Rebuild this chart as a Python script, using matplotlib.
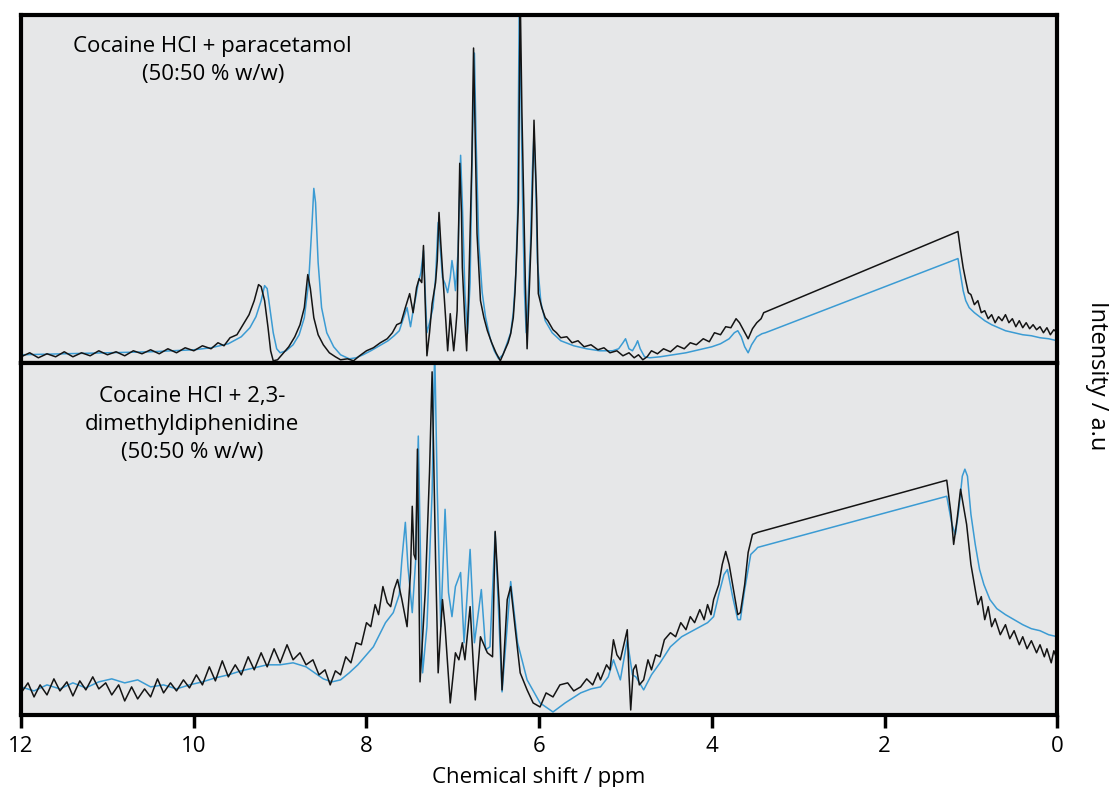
import matplotlib
matplotlib.use("Agg")
import matplotlib.pyplot as plt

plt.rcParams['font.family'] = ['Open Sans', 'DejaVu Sans']

# (chemical shift in ppm, intensity in a.u.) - upper mixture, black = measured, blue = model
top_black = [
    (12.00, 6), (11.90, 10), (11.80, 5), (11.70, 9), (11.60, 6), (11.50, 11), (11.40, 6),
    (11.30, 10), (11.20, 7), (11.10, 12), (11.00, 8), (10.90, 11), (10.80, 7), (10.70, 12),
    (10.60, 9), (10.50, 13), (10.40, 9), (10.30, 14), (10.20, 10), (10.10, 15), (10.00, 12),
    (9.90, 17), (9.80, 14), (9.72, 20), (9.65, 17), (9.58, 25), (9.50, 28), (9.43, 38),
    (9.36, 48), (9.30, 62), (9.25, 78), (9.22, 76), (9.18, 62), (9.14, 35), (9.11, 12),
    (9.08, 2), (9.03, 3), (8.97, 9), (8.90, 16), (8.83, 26), (8.77, 38), (8.72, 55),
    (8.68, 88), (8.65, 74), (8.61, 45), (8.56, 28), (8.50, 18), (8.43, 10), (8.36, 6),
    (8.30, 3), (8.22, 4), (8.15, 2), (8.08, 7), (8.00, 12), (7.92, 15), (7.84, 20),
    (7.76, 24), (7.70, 30), (7.65, 38), (7.60, 40), (7.55, 55), (7.50, 69), (7.46, 50),
    (7.42, 75), (7.39, 84), (7.36, 80), (7.34, 117), (7.32, 60), (7.30, 7), (7.27, 30),
    (7.24, 59), (7.20, 80), (7.18, 102), (7.16, 150), (7.14, 120), (7.11, 79), (7.08, 40),
    (7.06, 12), (7.04, 35), (7.03, 49), (7.01, 30), (6.99, 12), (6.97, 30), (6.95, 52),
    (6.93, 150), (6.92, 199), (6.90, 150), (6.89, 95), (6.86, 40), (6.84, 12), (6.82, 60),
    (6.81, 95), (6.78, 200), (6.76, 314), (6.74, 220), (6.72, 129), (6.68, 62), (6.64, 45),
    (6.60, 32), (6.55, 20), (6.50, 10), (6.45, 2), (6.40, 12), (6.36, 20), (6.33, 29),
    (6.30, 45), (6.28, 70), (6.26, 110), (6.24, 162), (6.22, 370), (6.20, 250), (6.18, 162),
    (6.16, 79), (6.14, 14), (6.12, 60), (6.09, 129), (6.07, 200), (6.06, 242), (6.04, 190),
    (6.03, 162), (6.01, 69), (5.97, 55), (5.93, 45), (5.90, 42), (5.84, 33), (5.80, 30),
    (5.75, 25), (5.68, 26), (5.62, 20), (5.55, 22), (5.48, 16), (5.40, 18), (5.32, 13),
    (5.25, 15), (5.18, 10), (5.10, 12), (5.03, 7), (4.96, 10), (4.90, 5), (4.85, 8),
    (4.80, 3), (4.75, 6), (4.70, 12), (4.63, 9), (4.56, 14), (4.48, 11), (4.40, 17),
    (4.32, 14), (4.25, 20), (4.18, 18), (4.10, 24), (4.03, 21), (3.97, 30), (3.90, 28),
    (3.84, 36), (3.78, 35), (3.72, 44), (3.68, 40), (3.63, 32), (3.58, 24), (3.53, 34),
    (3.48, 40), (3.43, 44), (3.40, 50), (1.15, 131), (1.12, 112), (1.09, 95), (1.06, 82),
    (1.03, 70), (1.00, 68), (0.96, 58), (0.92, 62), (0.88, 50), (0.84, 52), (0.80, 44),
    (0.76, 48), (0.72, 40), (0.68, 46), (0.64, 42), (0.60, 48), (0.56, 40), (0.52, 44),
    (0.48, 36), (0.44, 42), (0.40, 35), (0.36, 40), (0.32, 34), (0.28, 38), (0.24, 33),
    (0.20, 36), (0.16, 30), (0.12, 35), (0.08, 28), (0.04, 33), (0.00, 30),
]

top_blue = [
    (12.00, 8), (11.50, 9), (11.00, 10), (10.50, 11), (10.00, 13), (9.80, 15), (9.60, 19),
    (9.45, 26), (9.35, 35), (9.28, 46), (9.22, 62), (9.18, 77), (9.15, 74), (9.12, 55),
    (9.08, 30), (9.04, 14), (9.00, 10), (8.93, 12), (8.85, 18), (8.78, 28), (8.72, 45),
    (8.67, 80), (8.63, 140), (8.61, 174), (8.59, 160), (8.56, 100), (8.52, 55), (8.46, 30),
    (8.38, 16), (8.30, 8), (8.20, 4), (8.12, 5), (8.04, 8), (7.95, 12), (7.85, 17),
    (7.75, 22), (7.68, 27), (7.62, 32), (7.57, 45), (7.53, 55), (7.49, 36), (7.46, 52),
    (7.43, 65), (7.40, 80), (7.37, 90), (7.34, 112), (7.32, 70), (7.30, 30), (7.27, 40),
    (7.23, 55), (7.20, 85), (7.17, 140), (7.15, 120), (7.12, 85), (7.09, 79), (7.06, 70),
    (7.03, 85), (7.01, 102), (6.99, 90), (6.97, 72), (6.94, 110), (6.92, 175), (6.91, 207),
    (6.89, 160), (6.86, 70), (6.83, 29), (6.80, 80), (6.78, 190), (6.75, 309), (6.73, 220),
    (6.70, 120), (6.66, 70), (6.62, 45), (6.57, 25), (6.52, 12), (6.47, 4), (6.42, 8),
    (6.37, 20), (6.33, 30), (6.30, 50), (6.27, 90), (6.25, 150), (6.23, 370), (6.21, 260),
    (6.19, 150), (6.17, 70), (6.15, 30), (6.13, 60), (6.10, 120), (6.08, 190), (6.06, 229),
    (6.04, 180), (6.02, 100), (5.98, 60), (5.93, 42), (5.85, 30), (5.75, 22), (5.60, 17),
    (5.45, 14), (5.30, 12), (5.15, 12), (5.08, 14), (5.03, 20), (5.00, 24), (4.96, 14),
    (4.92, 12), (4.88, 18), (4.86, 22), (4.83, 14), (4.78, 6), (4.72, 5), (4.60, 6),
    (4.45, 8), (4.30, 10), (4.15, 13), (4.00, 16), (3.90, 19), (3.80, 24), (3.74, 30),
    (3.70, 32), (3.66, 26), (3.62, 16), (3.58, 10), (3.54, 18), (3.48, 26), (3.42, 29),
    (3.38, 30), (1.15, 104), (1.12, 88), (1.09, 72), (1.06, 62), (1.02, 55), (0.96, 50),
    (0.90, 46), (0.84, 42), (0.76, 38), (0.68, 35), (0.60, 32), (0.50, 30), (0.40, 28),
    (0.30, 27), (0.20, 25), (0.10, 24), (0.00, 22),
]

# lower mixture
bot_black = [
    (12.00, 22), (11.92, 32), (11.85, 18), (11.78, 30), (11.70, 20), (11.62, 36), (11.55, 24),
    (11.47, 33), (11.40, 19), (11.32, 34), (11.25, 25), (11.17, 38), (11.10, 26), (11.02, 32),
    (10.95, 20), (10.87, 30), (10.80, 14), (10.72, 28), (10.65, 16), (10.57, 26), (10.50, 18),
    (10.42, 36), (10.35, 22), (10.27, 32), (10.20, 24), (10.12, 35), (10.05, 27), (9.97, 40),
    (9.90, 30), (9.82, 48), (9.75, 34), (9.67, 54), (9.60, 38), (9.52, 50), (9.45, 40),
    (9.37, 58), (9.30, 45), (9.22, 62), (9.15, 48), (9.07, 66), (9.00, 52), (8.92, 70),
    (8.85, 55), (8.77, 62), (8.70, 50), (8.62, 55), (8.55, 40), (8.48, 45), (8.42, 30),
    (8.36, 44), (8.30, 40), (8.24, 58), (8.18, 52), (8.12, 72), (8.06, 70), (8.00, 92),
    (7.95, 88), (7.90, 110), (7.86, 100), (7.81, 128), (7.76, 112), (7.72, 108), (7.68, 125),
    (7.64, 135), (7.59, 115), (7.53, 88), (7.49, 142), (7.47, 208), (7.45, 160), (7.43, 155),
    (7.41, 265), (7.38, 33), (7.32, 122), (7.27, 242), (7.24, 342), (7.22, 250), (7.20, 155),
    (7.17, 42), (7.12, 115), (7.09, 88), (7.03, 12), (6.97, 62), (6.93, 55), (6.89, 72),
    (6.86, 55), (6.80, 108), (6.74, 15), (6.68, 78), (6.60, 62), (6.54, 58), (6.51, 183),
    (6.46, 105), (6.43, 25), (6.37, 115), (6.33, 128), (6.28, 88), (6.22, 42), (6.14, 25),
    (6.07, 12), (5.99, 8), (5.92, 22), (5.84, 18), (5.76, 30), (5.67, 32), (5.60, 24),
    (5.52, 28), (5.45, 36), (5.38, 30), (5.32, 42), (5.29, 35), (5.22, 50), (5.18, 45),
    (5.14, 75), (5.10, 60), (5.06, 55), (5.02, 70), (4.98, 85), (4.96, 40), (4.94, 5),
    (4.91, 45), (4.88, 50), (4.84, 30), (4.79, 35), (4.74, 55), (4.70, 45), (4.65, 60),
    (4.60, 58), (4.55, 75), (4.48, 82), (4.42, 78), (4.36, 92), (4.30, 85), (4.25, 98),
    (4.20, 92), (4.14, 105), (4.09, 95), (4.05, 110), (4.01, 100), (3.98, 115), (3.92, 130),
    (3.88, 150), (3.84, 163), (3.80, 150), (3.75, 125), (3.70, 100), (3.67, 102), (3.62, 130),
    (3.58, 162), (3.53, 180), (3.47, 182), (1.28, 234), (1.23, 200), (1.20, 170), (1.16, 195),
    (1.12, 225), (1.09, 210), (1.05, 190), (1.00, 150), (0.96, 130), (0.92, 110), (0.88, 118),
    (0.84, 95), (0.80, 108), (0.76, 88), (0.72, 96), (0.66, 80), (0.60, 90), (0.55, 76),
    (0.50, 84), (0.44, 70), (0.40, 78), (0.35, 66), (0.30, 74), (0.24, 62), (0.20, 70),
    (0.15, 58), (0.12, 66), (0.07, 52), (0.04, 64), (0.00, 55),
]

bot_blue = [
    (12.00, 28), (11.85, 24), (11.70, 30), (11.55, 26), (11.40, 32), (11.25, 27), (11.10, 33),
    (10.95, 36), (10.80, 32), (10.65, 35), (10.50, 28), (10.35, 30), (10.20, 26), (10.05, 30),
    (9.90, 33), (9.75, 37), (9.60, 40), (9.45, 44), (9.30, 47), (9.15, 50), (9.00, 50),
    (8.85, 52), (8.70, 48), (8.60, 42), (8.50, 36), (8.40, 33), (8.30, 35), (8.20, 42),
    (8.10, 50), (8.00, 60), (7.92, 68), (7.85, 80), (7.78, 92), (7.69, 102), (7.62, 120),
    (7.59, 155), (7.55, 192), (7.52, 148), (7.47, 102), (7.43, 155), (7.40, 278), (7.35, 42),
    (7.30, 88), (7.24, 222), (7.21, 365), (7.18, 222), (7.14, 88), (7.09, 205), (7.05, 122),
    (7.01, 98), (6.97, 128), (6.91, 142), (6.87, 72), (6.80, 165), (6.75, 72), (6.67, 125),
    (6.62, 65), (6.57, 68), (6.51, 182), (6.43, 23), (6.33, 133), (6.25, 72), (6.14, 35),
    (5.99, 12), (5.84, 3), (5.70, 12), (5.52, 22), (5.40, 26), (5.29, 28), (5.20, 38),
    (5.14, 55), (5.10, 45), (5.06, 35), (4.98, 75), (4.92, 40), (4.88, 38), (4.79, 25),
    (4.70, 40), (4.60, 52), (4.48, 68), (4.35, 78), (4.20, 85), (4.05, 92), (3.98, 98),
    (3.92, 120), (3.86, 140), (3.82, 145), (3.76, 118), (3.70, 95), (3.67, 95), (3.62, 125),
    (3.55, 160), (3.49, 165), (3.47, 167), (1.28, 218), (1.22, 190), (1.18, 180), (1.14, 205),
    (1.10, 238), (1.07, 245), (1.04, 238), (1.00, 200), (0.95, 170), (0.90, 145), (0.85, 130),
    (0.78, 115), (0.70, 106), (0.60, 100), (0.50, 95), (0.40, 90), (0.30, 86), (0.20, 84),
    (0.10, 80), (0.00, 78),
]

top_label = "Cocaine HCl + paracetamol\n(50:50 % w/w)"
bot_label = "Cocaine HCl + 2,3-\ndimethyldiphenidine\n(50:50 % w/w)"
xticks = [12, 10, 8, 6, 4, 2, 0]

BLACK = '#141414'
BLUE = '#3b9bd3'
BG = '#e6e7e8'

fig = plt.figure(figsize=(11.1, 7.87), dpi=100)
ax_top = fig.add_axes([0.019, 0.539, 0.9335, 0.442])
ax_bot = fig.add_axes([0.019, 0.0915, 0.9335, 0.4475])

panels = [
    (ax_top, top_black, top_blue, 347, top_label, (0.185, 0.94)),
    (ax_bot, bot_black, bot_blue, 351, bot_label, (0.165, 0.935)),
]
for ax, blk, blu, ymax, label, pos in panels:
    ax.set_facecolor(BG)
    ax.plot([p[0] for p in blu], [p[1] for p in blu], color=BLUE, lw=1.1)
    ax.plot([p[0] for p in blk], [p[1] for p in blk], color=BLACK, lw=1.1)
    ax.set_xlim(12, 0)
    ax.set_ylim(0, ymax)
    ax.set_yticks([])
    for s in ax.spines.values():
        s.set_linewidth(3)
        s.set_color('black')
    ax.text(pos[0], pos[1], label, transform=ax.transAxes, ha='center', va='top',
            fontsize=16, linespacing=1.45)

ax_top.set_xticks([])
ax_bot.set_xticks(xticks)
ax_bot.set_xticklabels([str(t) for t in xticks], fontsize=16)
ax_bot.tick_params(axis='x', direction='out', length=9, width=2.5, pad=6)
ax_bot.set_xlabel("Chemical shift / ppm", fontsize=16, labelpad=7)

fig.text(0.988, 0.522, "Intensity / a.u", rotation=270, ha='center', va='center',
         fontsize=17)

fig.savefig("out.png", dpi=100, facecolor='white')
